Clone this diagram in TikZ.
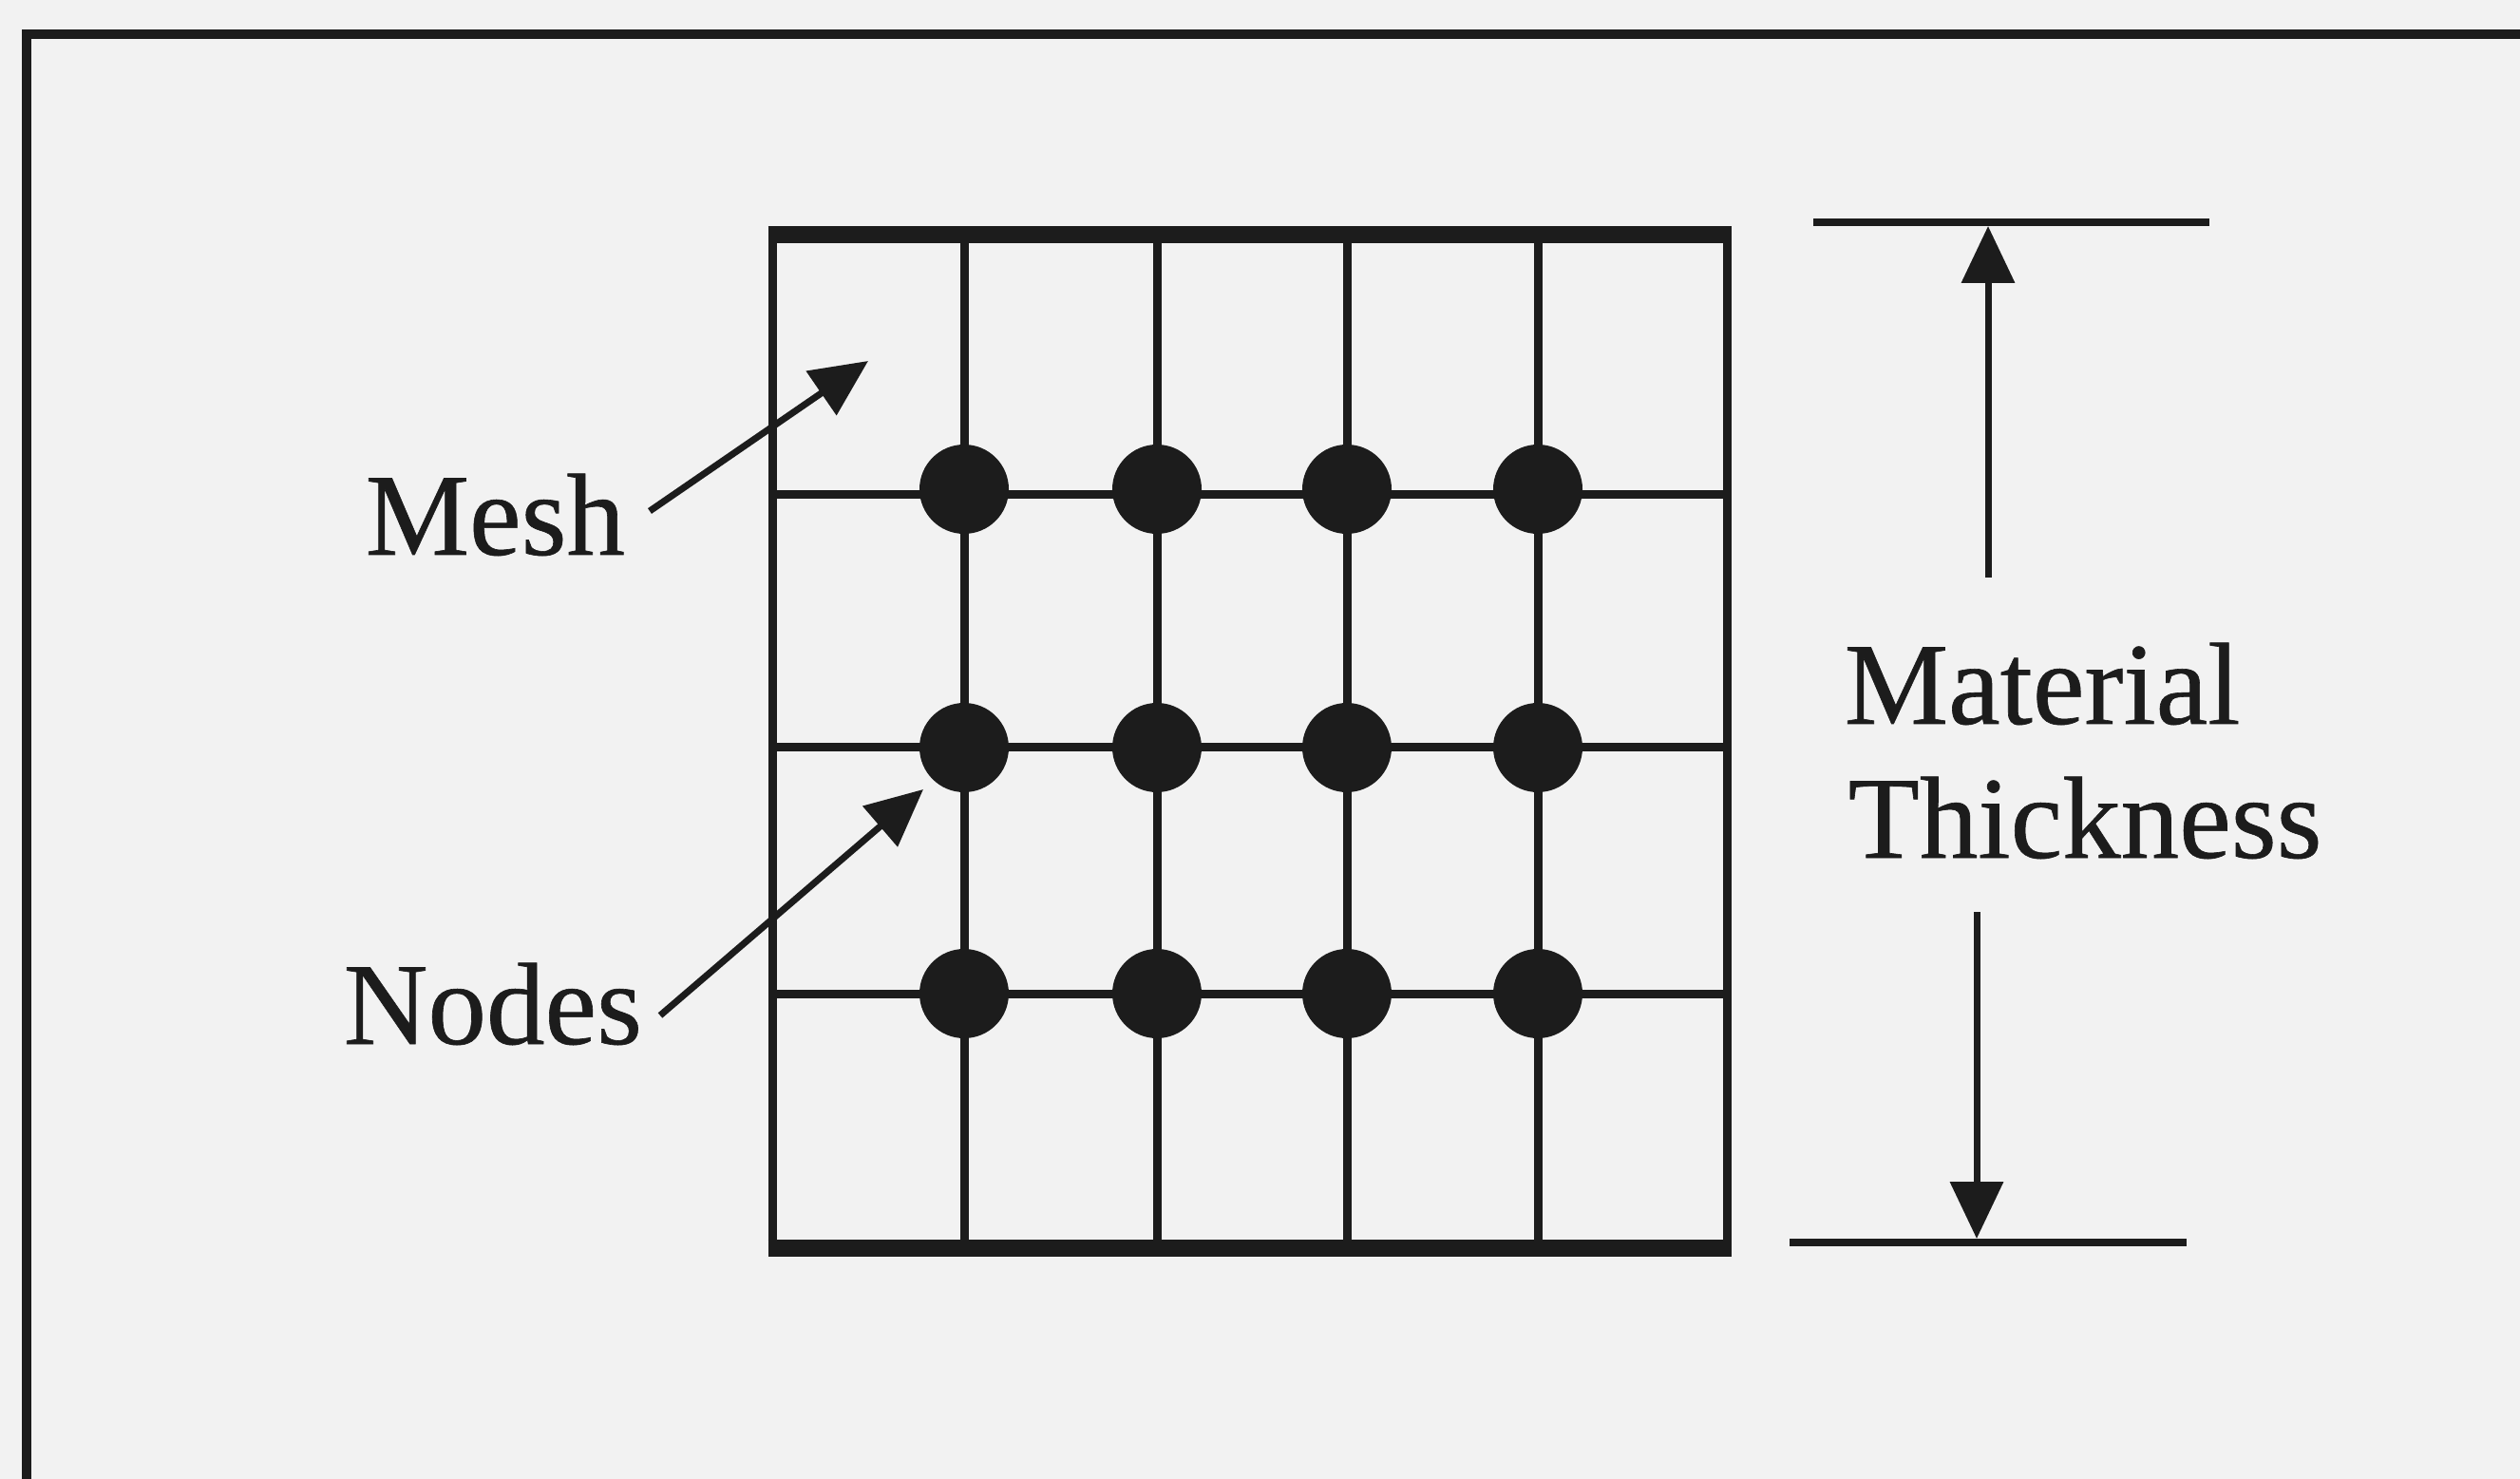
\documentclass[tikz,border=0pt]{standalone}
\usepackage{fontspec}
\setmainfont{Liberation Serif}
\newfontfamily\lblfont{Liberation Serif}[FakeBold=0.5]
\usetikzlibrary{arrows.meta}
\definecolor{paper}{RGB}{242,242,242}
\definecolor{ink}{RGB}{28,28,28}
\begin{document}
\begin{tikzpicture}[
  x=1cm,y=1cm,
  meshline/.style={draw=ink,line width=0.09cm},
  thickline/.style={draw=ink,line width=0.18cm},
  dimline/.style={draw=ink,line width=0.08cm},
  arr/.style={draw=ink,line width=0.07cm,-{Triangle[length=0.6cm,width=0.55cm]}},
  dot/.style={circle,fill=ink,minimum size=0.94cm,inner sep=0pt},
  lbl/.style={text=ink,font=\lblfont\fontsize{35}{40}\selectfont,inner sep=0pt,anchor=base west}
]
\useasboundingbox (0,0) rectangle (26.53,-15.57);
\fill[paper] (0,0) rectangle (26.53,-15.57);
% outer frame (top and left edges)
\draw[draw=ink,line width=0.1cm] (0.28,-16) -- (0.28,-0.36) -- (27,-0.36);
% mesh box
\coordinate (TL) at (8.13,-2.47);
\coordinate (TR) at (18.18,-2.47);
\coordinate (BL) at (8.13,-13.14);
\coordinate (BR) at (18.18,-13.14);
\foreach \x in {10.15,12.18,14.18,16.19}{
  \draw[meshline] (\x,-2.47) -- (\x,-13.14);
}
\foreach \y in {-5.21,-7.87,-10.46}{
  \draw[meshline] (8.13,\y) -- (18.18,\y);
}
\draw[meshline] (TL) -- (BL);
\draw[meshline] (TR) -- (BR);
\draw[thickline] ([xshift=-0.045cm]TL) -- ([xshift=0.045cm]TR);
\draw[thickline] ([xshift=-0.045cm]BL) -- ([xshift=0.045cm]BR);
% nodes (dots)
\foreach \x [count=\i] in {10.15,12.18,14.18,16.19}{
  \node[dot] (r1c\i) at (\x,-5.15) {};
  \node[dot] (r2c\i) at (\x,-7.87) {};
  \node[dot] (r3c\i) at (\x,-10.46) {};
}
% labels
\node[lbl] (meshlbl) at (3.84,-5.84) {Mesh};
\node[lbl] (nodeslbl) at (3.61,-10.99) {Nodes};
\node[lbl] (matlbl) at (19.41,-7.62) {Material};
\node[lbl] (thklbl) at (19.45,-9.03) {Thickness};
% leader arrows
\coordinate (meshtail) at (6.84,-5.38);
\coordinate (meshtip) at (9.14,-3.80);
\coordinate (nodestail) at (6.95,-10.69);
\coordinate (nodestip) at (9.72,-8.31);
\draw[arr] (meshtail) -- (meshtip);
\draw[arr] (nodestail) -- (nodestip);
% thickness dimension
\coordinate (dt1) at (19.09,-2.34);
\coordinate (dt2) at (23.26,-2.34);
\coordinate (db1) at (18.84,-13.08);
\coordinate (db2) at (23.02,-13.08);
\draw[dimline] (dt1) -- (dt2);
\draw[dimline] (db1) -- (db2);
\coordinate (upstart) at (20.93,-6.08);
\coordinate (uptip) at (20.93,-2.38);
\coordinate (dnstart) at (20.81,-9.60);
\coordinate (dntip) at (20.81,-13.04);
\draw[arr] (upstart) -- (uptip);
\draw[arr] (dnstart) -- (dntip);
\end{tikzpicture}
\end{document}
